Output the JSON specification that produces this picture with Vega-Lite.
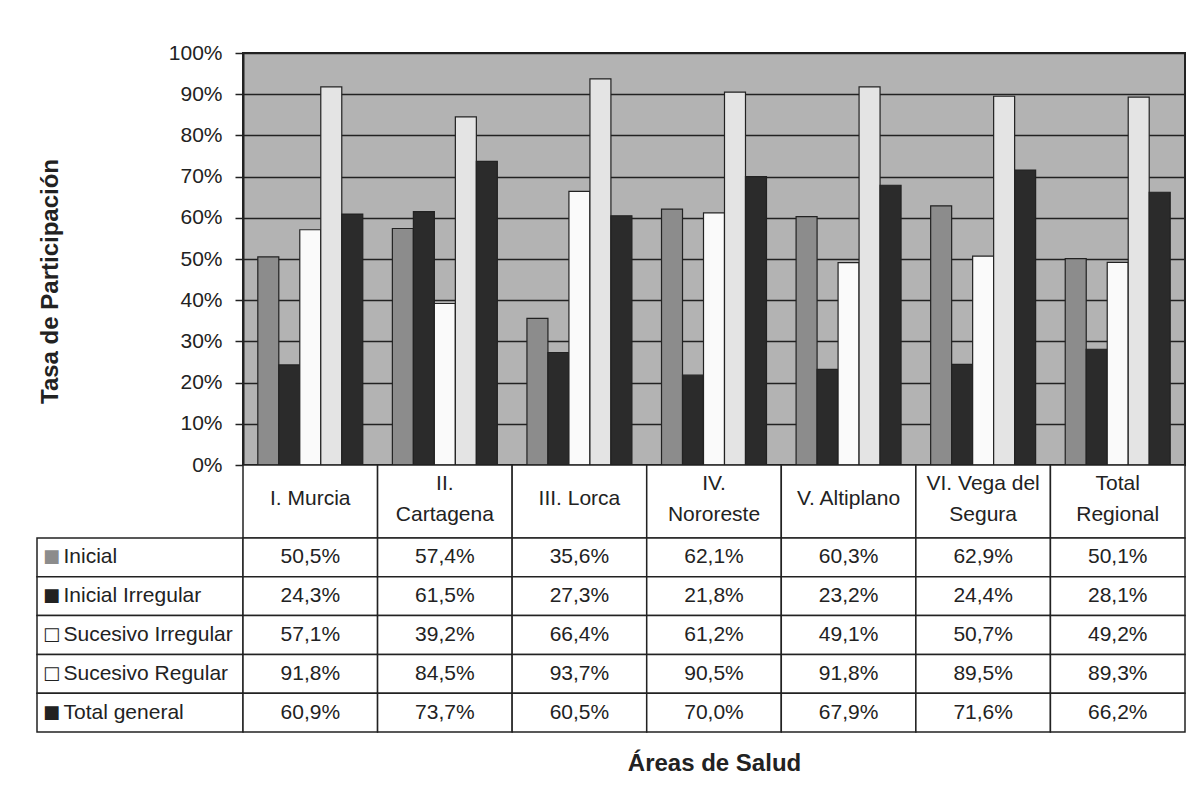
{
  "$schema": "https://vega.github.io/schema/vega-lite/v6.json",
  "background": "white",
  "padding": {"left": 36, "top": 41, "right": 5, "bottom": 5},
  "config": {
    "view": {"stroke": null},
    "font": "Liberation Sans",
    "locale": {"number": {"decimal": ",", "thousands": ".", "grouping": [3], "currency": ["", " €"]}}
  },
  "datasets": {
    "tasas": [
      {"area": "I. Murcia", "serie": "Inicial", "valor": 0.505},
      {"area": "I. Murcia", "serie": "Inicial Irregular", "valor": 0.243},
      {"area": "I. Murcia", "serie": "Sucesivo Irregular", "valor": 0.571},
      {"area": "I. Murcia", "serie": "Sucesivo Regular", "valor": 0.918},
      {"area": "I. Murcia", "serie": "Total general", "valor": 0.609},
      {"area": "II.\nCartagena", "serie": "Inicial", "valor": 0.574},
      {"area": "II.\nCartagena", "serie": "Inicial Irregular", "valor": 0.615},
      {"area": "II.\nCartagena", "serie": "Sucesivo Irregular", "valor": 0.392},
      {"area": "II.\nCartagena", "serie": "Sucesivo Regular", "valor": 0.845},
      {"area": "II.\nCartagena", "serie": "Total general", "valor": 0.737},
      {"area": "III. Lorca", "serie": "Inicial", "valor": 0.356},
      {"area": "III. Lorca", "serie": "Inicial Irregular", "valor": 0.273},
      {"area": "III. Lorca", "serie": "Sucesivo Irregular", "valor": 0.664},
      {"area": "III. Lorca", "serie": "Sucesivo Regular", "valor": 0.937},
      {"area": "III. Lorca", "serie": "Total general", "valor": 0.605},
      {"area": "IV.\nNororeste", "serie": "Inicial", "valor": 0.621},
      {"area": "IV.\nNororeste", "serie": "Inicial Irregular", "valor": 0.218},
      {"area": "IV.\nNororeste", "serie": "Sucesivo Irregular", "valor": 0.612},
      {"area": "IV.\nNororeste", "serie": "Sucesivo Regular", "valor": 0.905},
      {"area": "IV.\nNororeste", "serie": "Total general", "valor": 0.700},
      {"area": "V. Altiplano", "serie": "Inicial", "valor": 0.603},
      {"area": "V. Altiplano", "serie": "Inicial Irregular", "valor": 0.232},
      {"area": "V. Altiplano", "serie": "Sucesivo Irregular", "valor": 0.491},
      {"area": "V. Altiplano", "serie": "Sucesivo Regular", "valor": 0.918},
      {"area": "V. Altiplano", "serie": "Total general", "valor": 0.679},
      {"area": "VI. Vega del\nSegura", "serie": "Inicial", "valor": 0.629},
      {"area": "VI. Vega del\nSegura", "serie": "Inicial Irregular", "valor": 0.244},
      {"area": "VI. Vega del\nSegura", "serie": "Sucesivo Irregular", "valor": 0.507},
      {"area": "VI. Vega del\nSegura", "serie": "Sucesivo Regular", "valor": 0.895},
      {"area": "VI. Vega del\nSegura", "serie": "Total general", "valor": 0.716},
      {"area": "Total\nRegional", "serie": "Inicial", "valor": 0.501},
      {"area": "Total\nRegional", "serie": "Inicial Irregular", "valor": 0.281},
      {"area": "Total\nRegional", "serie": "Sucesivo Irregular", "valor": 0.492},
      {"area": "Total\nRegional", "serie": "Sucesivo Regular", "valor": 0.893},
      {"area": "Total\nRegional", "serie": "Total general", "valor": 0.662}
    ]
  },
  "columns": 2,
  "spacing": 0,
  "bounds": "flush",
  "resolve": {"scale": {"x": "independent", "y": "independent", "color": "independent"}},
  "concat": [
    {
      "width": 206, "height": 412,
      "data": {"values": [{}]},
      "mark": {"type": "point", "opacity": 0}
    },
    {
      "width": 942, "height": 412,
      "data": {"name": "tasas"},
      "view": {"fill": "#b3b3b3", "stroke": "#222222", "strokeWidth": 2},
      "mark": {"type": "bar", "stroke": "#222222", "strokeWidth": 1.2},
      "encoding": {
        "x": {"field": "area", "type": "nominal", "sort": null, "scale": {"paddingInner": 0.22, "paddingOuter": 0.11}, "axis": null},
        "xOffset": {"field": "serie", "type": "nominal", "sort": null, "scale": {"paddingInner": 0, "paddingOuter": 0}},
        "y": {
          "field": "valor", "type": "quantitative",
          "scale": {"domain": [0, 1]},
          "axis": {
            "values": [0, 0.1, 0.2, 0.3, 0.4, 0.5, 0.6, 0.7, 0.8, 0.9, 1],
            "format": ".0%",
            "grid": true, "gridColor": "#222222", "gridWidth": 1.5, "gridOpacity": 1,
            "tickColor": "#222222", "tickSize": 8, "tickWidth": 1.5,
            "domainColor": "#222222", "domainWidth": 2,
            "labelFontSize": 21, "labelColor": "#222222", "labelPadding": 13,
            "title": "Tasa de Participación",
            "titleFontSize": 24, "titleFontWeight": "bold", "titleColor": "#222222",
            "titleX": -193, "titleY": 228, "titleAngle": 270, "titleAlign": "center", "titleBaseline": "middle"
          }
        },
        "color": {
          "field": "serie", "type": "nominal", "sort": null,
          "scale": {
            "domain": ["Inicial", "Inicial Irregular", "Sucesivo Irregular", "Sucesivo Regular", "Total general"],
            "range": ["#8c8c8c", "#2b2b2b", "#fafafa", "#e4e4e4", "#2b2b2b"]
          },
          "legend": null
        }
      }
    },
    {
      "width": 206, "height": 73,
      "data": {"values": [{}]},
      "mark": {"type": "point", "opacity": 0}
    },
    {
      "width": 942, "height": 73,
      "data": {"name": "tasas"},
      "transform": [{"filter": "datum.serie === 'Inicial'"}],
      "encoding": {
        "x": {"field": "area", "type": "nominal", "sort": null, "scale": {"paddingInner": 0, "paddingOuter": 0}, "axis": null}
      },
      "layer": [
        {"mark": {"type": "rect", "fill": "white", "stroke": "#222222", "strokeWidth": 1.5}},
        {
          "transform": [{"filter": "indexof(datum.area, '\\n') < 0"}],
          "mark": {"type": "text", "fontSize": 21, "color": "#222222", "dy": -3},
          "encoding": {"text": {"field": "area"}}
        },
        {
          "transform": [{"filter": "indexof(datum.area, '\\n') >= 0"}],
          "mark": {"type": "text", "fontSize": 21, "lineBreak": "\n", "lineHeight": 31, "color": "#222222", "dy": -18},
          "encoding": {"text": {"field": "area"}}
        }
      ]
    },
    {
      "width": 206, "height": 194,
      "data": {"name": "tasas"},
      "transform": [{"filter": "datum.area === 'I. Murcia'"}],
      "mark": {"type": "rect", "fill": "white", "stroke": "#222222", "strokeWidth": 1.5},
      "encoding": {
        "y": {
          "field": "serie", "type": "nominal", "sort": null,
          "scale": {"paddingInner": 0, "paddingOuter": 0},
          "axis": {
            "orient": "left", "zindex": 1,
            "labelExpr": "indexof(['Inicial','Inicial Irregular','Total general'], datum.value) >= 0 ? '■' : '□'",
            "labelAlign": "center", "labelPadding": -14, "ticks": false, "domain": false, "title": null,
            "labelFontSize": 18, "labelFont": "DejaVu Sans",
            "labelColor": {"condition": {"test": "datum.value === 'Inicial'", "value": "#8c8c8c"}, "value": "#222222"}
          }
        }
      }
    },
    {
      "width": 942, "height": 194,
      "data": {"name": "tasas"},
      "encoding": {
        "x": {
          "field": "area", "type": "nominal", "sort": null,
          "scale": {"paddingInner": 0, "paddingOuter": 0},
          "axis": {
            "orient": "bottom", "labels": false, "ticks": false, "domain": false,
            "title": "Áreas de Salud", "titleFontSize": 24, "titleFontWeight": "bold", "titleColor": "#222222", "titlePadding": 19
          }
        },
        "y": {
          "field": "serie", "type": "nominal", "sort": null,
          "scale": {"paddingInner": 0, "paddingOuter": 0},
          "axis": {
            "orient": "left", "zindex": 1, "labelAlign": "left", "labelPadding": 180,
            "ticks": false, "domain": false, "title": null,
            "labelFontSize": 21, "labelColor": "#222222"
          }
        }
      },
      "layer": [
        {"mark": {"type": "rect", "fill": "white", "stroke": "#222222", "strokeWidth": 1.5}},
        {
          "mark": {"type": "text", "fontSize": 21, "color": "#222222"},
          "encoding": {"text": {"field": "valor", "type": "quantitative", "format": ".1%"}}
        }
      ]
    }
  ]
}
